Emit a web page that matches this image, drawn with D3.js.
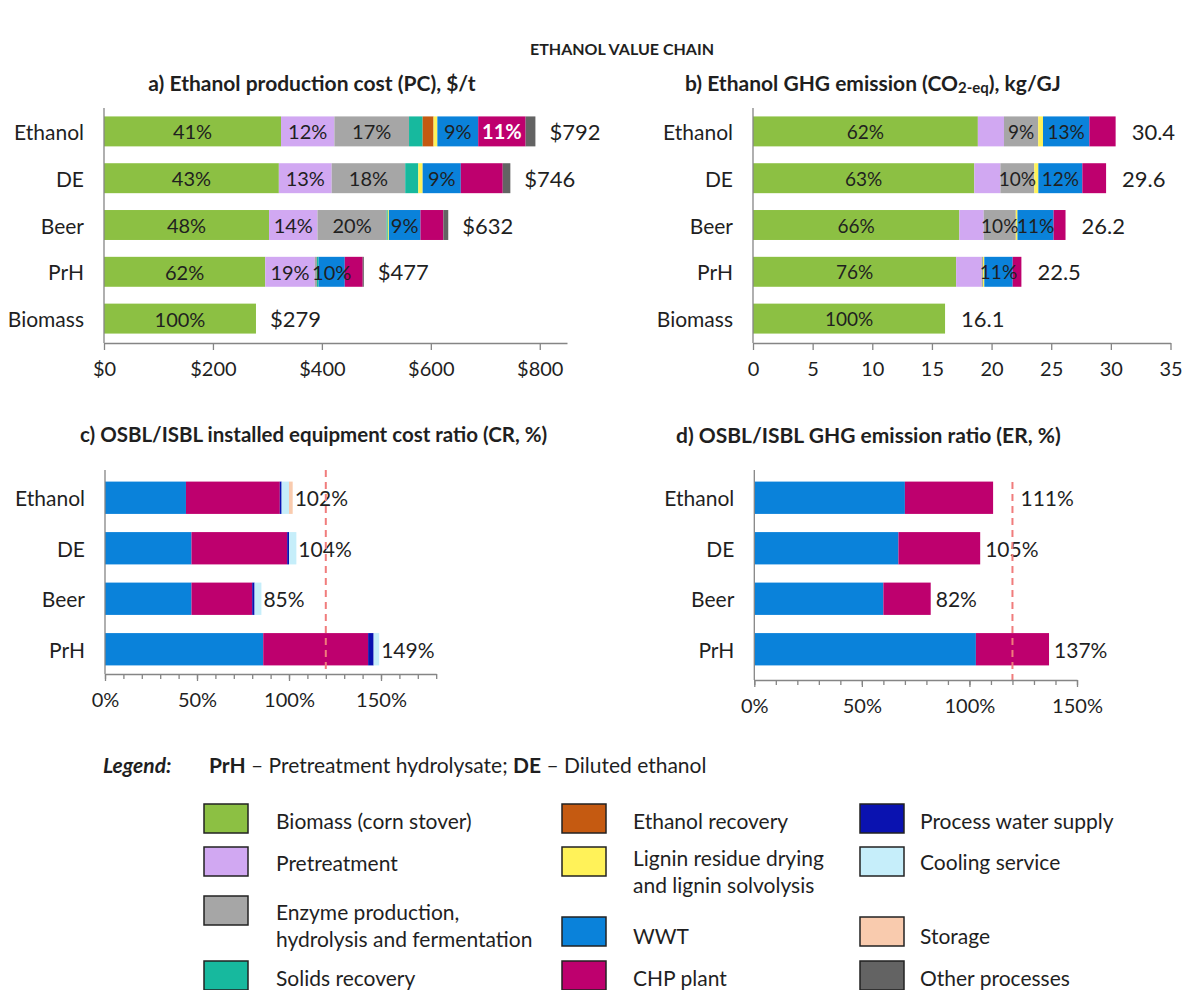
<!DOCTYPE html>
<html><head><meta charset="utf-8">
<script src="https://cdn.jsdelivr.net/npm/d3@7"></script>
<style>
body{margin:0;background:#fff}
text{font-family:Lato,"Open Sans",sans-serif;fill:#1f1f1f}
</style>
</head><body>
<svg id="chart" width="1182" height="990"></svg>
<script>
// ---------------- DATA ----------------
const processNames = ["Biomass (corn stover)","Pretreatment","Enzyme production,\nhydrolysis and fermentation","Solids recovery","Ethanol recovery","Lignin residue drying\nand lignin solvolysis","WWT","CHP plant","Process water supply","Cooling service","Storage","Other processes"];
const processColors = ["#8cc043","#d1a8f2","#a6a6a6","#17b99e","#c55a11","#fff259","#0a82da","#be006e","#0a12b0","#c6eefa","#f9cbae","#636363"];

const categoriesAB = ["Ethanol","DE","Beer","PrH","Biomass"];
const categoriesCD = ["Ethanol","DE","Beer","PrH"];

// a) production cost, $/t
const costBiomass      = [325, 321, 303, 296, 279];
const costPretreatment = [98, 97, 89, 91, 0];
const costEnzyme       = [137, 135, 127, 4, 0];
const costSolids       = [25, 24, 2, 3, 0];
const costEthRecovery  = [20, 0, 0, 0, 0];
const costLignin       = [7, 8, 2, 0, 0];
const costWWT          = [75, 70, 58, 48, 0];
const costCHP          = [87, 77, 42, 33, 0];
const costOther        = [18, 14, 9, 2, 0];
const costLabelBiomass = ["41%","43%","48%","62%","100%"];
const costLabelPretreat= ["12%","13%","14%","19%",""];
const costLabelEnzyme  = ["17%","18%","20%","",""];
const costLabelWWT     = ["9%","9%","9%","10%",""];
const costLabelCHP     = ["11%","","","",""];
const costTicks = [0,200,400,600,800];

// b) GHG emission, kg CO2-eq/GJ
const ghgBiomass      = [18.85, 18.55, 17.30, 17.03, 16.1];
const ghgPretreatment = [2.19, 2.19, 2.04, 2.13, 0];
const ghgEnzyme       = [2.87, 2.84, 2.69, 0.12, 0];
const ghgLignin       = [0.40, 0.34, 0.14, 0.11, 0];
const ghgWWT          = [3.89, 3.69, 3.03, 2.38, 0];
const ghgCHP          = [2.20, 1.99, 1.00, 0.73, 0];
const ghgLabelBiomass = ["62%","63%","66%","76%","100%"];
const ghgLabelEnzyme  = ["9%","10%","10%","",""];
const ghgLabelWWT     = ["13%","12%","11%","11%",""];
const ghgTicks = [0,5,10,15,20,25,30,35];

// c) OSBL/ISBL installed equipment cost ratio, %
const crWWT     = [44, 47, 47, 86];
const crCHP     = [51, 52, 33, 57];
const crWater   = [1, 1, 1.3, 3];
const crCooling = [4, 4, 3.7, 3];
const crStorage = [2, 0, 0, 0];
// d) OSBL/ISBL GHG emission ratio, %
const erWWT = [70, 67, 60, 103];
const erCHP = [41, 38, 22, 34];
const ratioTicks = [0,50,100,150];
const ratioThreshold = 120;

// ---------------- DRAWING ----------------
const svg = d3.select("#chart");

svg.append("text").attr("x",622).attr("y",48).attr("text-anchor","middle")
  .attr("dominant-baseline","central").attr("font-weight","bold").attr("font-size",16)
  .text("ETHANOL VALUE CHAIN");

function panel(cfg){
  const g = svg.append("g");
  const x = d3.scaleLinear().domain(cfg.domain).range(cfg.xRange);
  const y = d3.scaleBand().domain(cfg.cats).range(cfg.yRange).paddingInner(0.36).paddingOuter(0.18);
  const keys = cfg.colorIdx.map((c,j)=>"k"+j);
  const table = cfg.cats.map((c,i)=>{const o={cat:c}; keys.forEach((k,j)=>o[k]=cfg.values[j][i]); return o;});
  const stacked = d3.stack().keys(keys)(table);

  stacked.forEach((layer,j)=>{
    g.selectAll(null).data(layer.filter(d=>d[1]-d[0]>0)).enter().append("rect")
      .attr("x",d=>x(d[0])).attr("y",d=>y(d.data.cat))
      .attr("width",d=>x(d[1])-x(d[0])).attr("height",y.bandwidth())
      .attr("fill",processColors[cfg.colorIdx[j]]);
  });
  // in-bar labels
  stacked.forEach((layer,j)=>{
    const lab = cfg.labels[j]; if(!lab) return;
    const isCHP = cfg.colorIdx[j]===7;
    layer.forEach((d,i)=>{
      if(!lab[i]) return;
      g.append("text").attr("x",(x(d[0])+x(d[1]))/2).attr("y",y(d.data.cat)+y.bandwidth()/2)
        .attr("text-anchor","middle").attr("dominant-baseline","central")
        .attr("font-size",cfg.labelSize)
        .attr("font-weight",isCHP?"bold":"normal")
        .style("fill",isCHP?"#fff":"#1f1f1f")
        .text(lab[i]);
    });
  });
  // totals
  cfg.cats.forEach((c,i)=>{
    const total = d3.sum(cfg.values, v=>v[i]);
    const end = x(total);
    let lx = end + cfg.totalOffset;
    if(cfg.threshold!==undefined){
      const dx = x(cfg.threshold);
      if(dx-end>0 && dx-end<25) lx = dx + 8;
    }
    g.append("text").attr("x",lx).attr("y",y(c)+y.bandwidth()/2)
      .attr("dominant-baseline","central").attr("font-size",cfg.totalSize)
      .text(cfg.totalFmt(total));
  });
  // threshold
  if(cfg.threshold!==undefined){
    g.append("line").attr("x1",x(cfg.threshold)).attr("x2",x(cfg.threshold))
      .attr("y1",cfg.dashTop).attr("y2",cfg.axisY)
      .attr("stroke","#f07c7c").attr("stroke-width",2).attr("stroke-dasharray","7,5");
  }
  // x axis
  const ax = g.append("g").attr("transform",`translate(0,${cfg.axisY})`);
  if(cfg.minor){
    ax.append("g").call(d3.axisBottom(x).tickValues(cfg.minor).tickSize(5).tickSizeOuter(0).tickFormat(""))
      .call(s=>s.select(".domain").remove());
  }
  ax.append("g").call(d3.axisBottom(x).tickValues(cfg.ticks).tickSize(7).tickSizeOuter(0).tickPadding(12).tickFormat(cfg.tickFmt));
  ax.selectAll("path,line").attr("stroke","#858585").attr("stroke-width",1.3);
  ax.selectAll("text").attr("font-size",20).style("fill","#1f1f1f").attr("font-family",null);
  // y axis
  g.append("line").attr("x1",cfg.xRange[0]).attr("x2",cfg.xRange[0]).attr("y1",cfg.yAxisTop).attr("y2",cfg.axisY)
    .attr("stroke","#858585").attr("stroke-width",1.3);
  cfg.cats.forEach(c=>{
    g.append("text").attr("x",cfg.xRange[0]-20).attr("y",y(c)+y.bandwidth()/2)
      .attr("text-anchor","end").attr("dominant-baseline","central").attr("font-size",21).text(c);
  });
}

// panel titles
function title(x,yv,anchor,txt,size){
  return svg.append("text").attr("x",x).attr("y",yv).attr("text-anchor",anchor)
    .attr("dominant-baseline","central").attr("font-weight","bold").attr("font-size",size||21).text(txt);
}
title(312,82,"middle","a) Ethanol production cost (PC), $/t");
const tb = title(685,82,"start","b) Ethanol GHG emission (CO");
tb.append("tspan").attr("font-size",15).attr("dy",5).text("2-eq");
tb.append("tspan").attr("dy",-5).text("), kg/GJ");
title(80,434,"start","c) OSBL/ISBL installed equipment cost ratio (CR, %)",20.5);
title(676,434,"start","d) OSBL/ISBL GHG emission ratio (ER, %)");

panel({xRange:[104,567],domain:[0,850],yRange:[108,342],cats:categoriesAB,
  colorIdx:[0,1,2,3,4,5,6,7,11],
  values:[costBiomass,costPretreatment,costEnzyme,costSolids,costEthRecovery,costLignin,costWWT,costCHP,costOther],
  labels:[costLabelBiomass,costLabelPretreat,costLabelEnzyme,null,null,null,costLabelWWT,costLabelCHP,null],
  labelSize:20,totalSize:22,totalOffset:14,totalFmt:t=>"$"+Math.round(t),
  ticks:costTicks,tickFmt:d=>"$"+d,axisY:343,yAxisTop:108});

panel({xRange:[753,1170.5],domain:[0,35],yRange:[108,342],cats:categoriesAB,
  colorIdx:[0,1,2,5,6,7],
  values:[ghgBiomass,ghgPretreatment,ghgEnzyme,ghgLignin,ghgWWT,ghgCHP],
  labels:[ghgLabelBiomass,null,ghgLabelEnzyme,null,ghgLabelWWT,null],
  labelSize:19,totalSize:22,totalOffset:16,totalFmt:t=>t.toFixed(1),
  ticks:ghgTicks,tickFmt:d=>d,axisY:343,yAxisTop:108});

panel({xRange:[105,436.2],domain:[0,180],yRange:[472.5,674.5],cats:categoriesCD,
  colorIdx:[6,7,8,9,10],
  values:[crWWT,crCHP,crWater,crCooling,crStorage],
  labels:[null,null,null,null,null],
  labelSize:20,totalSize:21,totalOffset:2,totalFmt:t=>Math.round(t)+"%",
  ticks:ratioTicks,tickFmt:d=>d+"%",minor:d3.range(0,181,10),axisY:674,yAxisTop:470,
  threshold:ratioThreshold,dashTop:470});

panel({xRange:[754.3,1077],domain:[0,150],yRange:[472.5,674.5],cats:categoriesCD,
  colorIdx:[6,7],
  values:[erWWT,erCHP],
  labels:[null,null],
  labelSize:20,totalSize:21,totalOffset:5,totalFmt:t=>Math.round(t)+"%",
  ticks:ratioTicks,tickFmt:d=>d+"%",minor:d3.range(0,151,10),axisY:680,yAxisTop:470,
  threshold:ratioThreshold,dashTop:482});

// ---------------- LEGEND ----------------
const lg = svg.append("g");
lg.append("text").attr("x",103).attr("y",764).attr("dominant-baseline","central")
  .attr("font-size",21).attr("font-weight","bold").attr("font-style","italic").text("Legend:");
const lt = lg.append("text").attr("x",209).attr("y",764).attr("dominant-baseline","central").attr("font-size",21);
lt.append("tspan").attr("font-weight","bold").text("PrH");
lt.append("tspan").text(" – Pretreatment hydrolysate; ");
lt.append("tspan").attr("font-weight","bold").text("DE");
lt.append("tspan").text(" – Diluted ethanol");

const colX = [204,562,860];
const txtX = [276,633,920];
// [process index, column, swatch top, first text line center]
const slots = [[0,0,804,820],[1,0,847,862],[2,0,896,911],[3,0,961,977],
               [4,1,804,820],[5,1,847,857],[6,1,917,935],[7,1,961,977],
               [8,2,804,820],[9,2,847,861],[10,2,917,935],[11,2,961,977]];
slots.forEach(([p,c,sy,ty])=>{
  lg.append("rect").attr("x",colX[c]).attr("y",sy).attr("width",44).attr("height",29)
    .attr("fill",processColors[p]).attr("stroke","#222").attr("stroke-width",1.5);
  const lines = processNames[p].split("\n");
  lines.forEach((l,k)=>{
    lg.append("text").attr("x",txtX[c]).attr("y",ty+k*27).attr("dominant-baseline","central")
      .attr("font-size",21).text(l);
  });
});
</script>
</body></html>
